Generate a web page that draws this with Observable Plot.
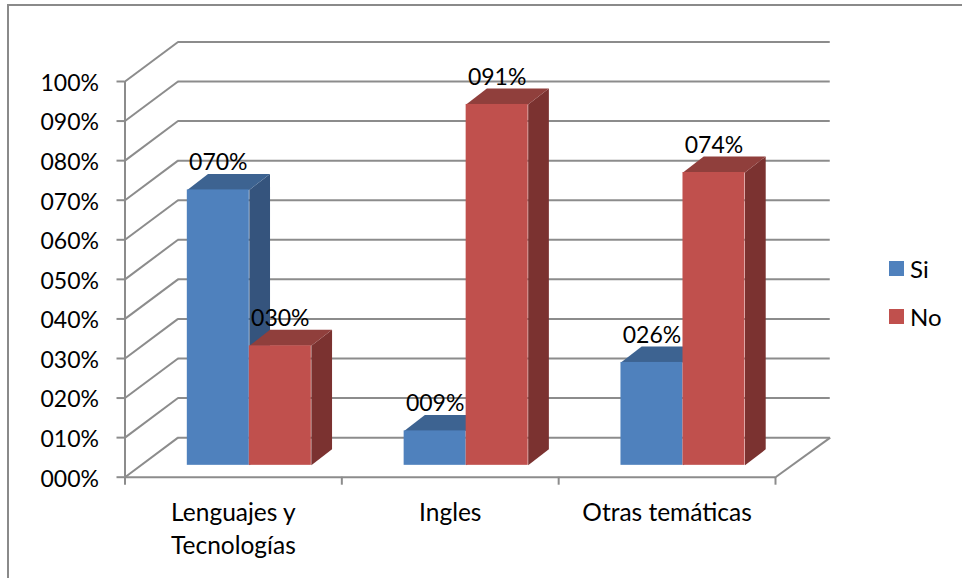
<!DOCTYPE html>
<html>
<head>
<meta charset="utf-8">
<script src="https://cdn.jsdelivr.net/npm/d3@7"></script>
<script src="https://cdn.jsdelivr.net/npm/@observablehq/plot@0.6"></script>
<style>
  html,body{margin:0;padding:0;background:#fff;overflow:hidden}
  #page{position:relative;width:962px;height:578px;font-family:Lato,sans-serif;color:#000}
  #frame{position:absolute;left:7px;top:4px;right:0;bottom:0;border-left:2px solid #8a8a8a;border-top:2px solid #8a8a8a}
  #chart{position:absolute;left:0;top:0}
  #chart svg{overflow:visible;background:transparent}
  .leg{position:absolute;left:889px;display:flex;align-items:center;font-size:24px;line-height:15px;height:15px}
  .leg i{display:inline-block;width:15px;height:15px;margin-right:6px}
</style>
</head>
<body>
<div id="page">
  <div id="frame"></div>
  <div id="chart"></div>
  <div class="leg" style="top:261px"><i style="background:#4f81bd"></i>Si</div>
  <div class="leg" style="top:309px"><i style="background:#c0504d"></i>No</div>
</div>
<script>
const categories = ["Lenguajes y\nTecnologías", "Ingles", "Otras temáticas"];
const si = [69.6, 8.7, 26];
const no = [30.2, 91.2, 74];
const yTicks = [0, 10, 20, 30, 40, 50, 60, 70, 80, 90, 100];
const xTicks = [0, 1, 2, 3];

const grid = "#8c8c8c";
const font = 23;
const catFont = 24.5;

// Depth of the 3D box, in scale units (x = category units, y = percent)
const wallX = 0.2445, wallY = 10;
const shiftX = wallX * 0.3, shiftY = 3;      // bars stand inside the floor
const barW = 0.286, barX = 0.0955, barY = 4.04;

const pct = v => String(Math.round(v)).padStart(3, "0") + "%";

const bars = [];
categories.forEach((c, i) => {
  const mid = i + 0.5 + shiftX;
  bars.push({series: "Si", x1: mid - barW, x2: mid, v: si[i], front: "#4f81bd", side: "#35547d", top: "#3d6391"});
  bars.push({series: "No", x1: mid, x2: mid + barW, v: no[i], front: "#c0504d", side: "#7b3230", top: "#903f3c"});
});
bars.forEach((b, i) => b.id = i);

const faces = bars.flatMap(b => {
  const y0 = shiftY, y1 = shiftY + b.v;
  return [
    {id: b.id + "s", fill: b.side, pts: [[b.x2, y0], [b.x2 + barX, y0 + barY], [b.x2 + barX, y1 + barY], [b.x2, y1]]},
    {id: b.id + "t", fill: b.top, pts: [[b.x1, y1], [b.x1 + barX, y1 + barY], [b.x2 + barX, y1 + barY], [b.x2, y1]]}
  ];
});
const facePts = faces.flatMap(f => f.pts.map(p => ({id: f.id, fill: f.fill, x: p[0], y: p[1]})));

const marks = [
  // back wall grid lines and left wall diagonals
  Plot.ruleY(yTicks, {y: d => d + wallY, x1: wallX, x2: 3 + wallX + 0.008, stroke: grid, strokeWidth: 2}),
  Plot.link(yTicks, {x1: 0, y1: d => d, x2: wallX, y2: d => d + wallY, stroke: grid, strokeWidth: 2}),
  // floor
  Plot.link([0], {x1: 3, y1: 0, x2: 3 + wallX + 0.008, y2: wallY, stroke: grid, strokeWidth: 2}),
  Plot.ruleY([0], {x1: 0, x2: 3, stroke: grid, strokeWidth: 2}),
  Plot.ruleX([0], {y1: 0, y2: 100, stroke: grid, strokeWidth: 2}),
  // axes
  Plot.axisY(yTicks, {tickSize: 8, tickFormat: () => "", stroke: grid, strokeWidth: 2, label: null}),
  Plot.axisY(yTicks, {tickSize: 0, tickPadding: 26, dy: 2, fontSize: font, fill: "#000",
    tickFormat: pct, label: null}),
  Plot.axisX(xTicks, {tickSize: 8, tickFormat: () => "", stroke: grid, strokeWidth: 2, label: null}),
  // bars
  ...bars.flatMap(b => [
    Plot.line(facePts.filter(p => p.id === b.id + "s" || p.id === b.id + "t"),
      {x: "x", y: "y", z: "id", fill: "fill", stroke: "none", curve: "linear"}),
    Plot.rect([b], {x1: "x1", x2: "x2", y1: shiftY, y2: d => shiftY + d.v, fill: "front", inset: 0})
  ]),
  // value labels
  Plot.text(bars, {x: d => (d.x1 + d.x2) / 2, y: d => shiftY + d.v, dy: -27,
    text: d => pct(d.v), fontSize: font, fill: "#000"}),
  // category labels
  Plot.text(categories, {x: (d, i) => i + 0.5, y: 0, dy: 20, text: d => d, fontSize: catFont,
    lineHeight: 1.35, lineAnchor: "top", fill: "#000"})
];

const plot = Plot.plot({
  width: 962,
  height: 578,
  marginLeft: 124.5,
  marginRight: 187,
  marginTop: 81,
  marginBottom: 101.3,
  x: {type: "linear", domain: [0, 3]},
  y: {domain: [0, 100]},
  color: {type: "identity"},
  style: {fontFamily: "Lato, sans-serif", background: "transparent", overflow: "visible"},
  marks
});
document.getElementById("chart").appendChild(plot);
</script>
</body>
</html>
